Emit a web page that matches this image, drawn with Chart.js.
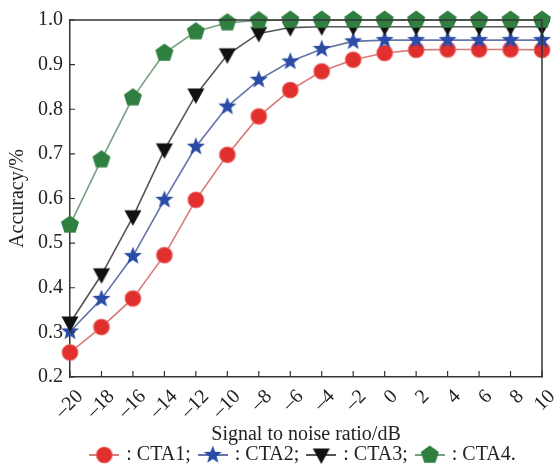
<!DOCTYPE html>
<html>
<head>
<meta charset="utf-8">
<script src="https://cdn.jsdelivr.net/npm/chart.js@4.4.1/dist/chart.umd.min.js"></script>
<style>
  html, body { margin: 0; padding: 0; background: #fff; }
  #wrap { width: 554px; height: 475px; }
</style>
</head>
<body>
<div id="wrap"><canvas id="c" width="554" height="475"></canvas></div>
<script>
// ---- data ----
const snrLabels = ['–20','–18','–16','–14','–12','–10','–8','–6','–4','–2','0','2','4','6','8','10'];
const cta1 = [0.255,0.312,0.376,0.473,0.597,0.698,0.784,0.843,0.885,0.911,0.926,0.933,0.934,0.934,0.934,0.933];
const cta2 = [0.302,0.375,0.471,0.597,0.716,0.806,0.866,0.907,0.935,0.952,0.955,0.955,0.955,0.955,0.955,0.955];
const cta3 = [0.321,0.429,0.559,0.709,0.832,0.922,0.970,0.983,0.985,0.985,0.985,0.985,0.985,0.985,0.985,0.985];
const cta4 = [0.541,0.687,0.826,0.926,0.974,0.994,0.999,1.0,1.0,1.0,1.0,1.0,1.0,1.0,1.0,1.0];
const seriesNames = [': CTA1;', ': CTA2;', ': CTA3;', ': CTA4.'];
const yTickValues = [0.2,0.3,0.4,0.5,0.6,0.7,0.8,0.9,1.0];
const xTitle = 'Signal to noise ratio/dB';
const yTitle = 'Accuracy/%';

// ---- styles ----
const FONT = "'Liberation Serif', 'Times New Roman', serif";
const TXT = '#222222';
const AXIS = '#333333';

function drawShape(ctx, shape, fill, cx, cy) {
  ctx.fillStyle = fill;
  ctx.beginPath();
  if (shape === 'circle') {
    ctx.arc(cx, cy, 8, 0, Math.PI * 2);
  } else if (shape === 'star') {
    for (let i = 0; i < 10; i++) {
      const r = i % 2 === 0 ? 9.5 : 4;
      const a = -Math.PI / 2 + i * Math.PI / 5;
      const px = cx + r * Math.cos(a), py = cy + r * Math.sin(a);
      if (i === 0) ctx.moveTo(px, py); else ctx.lineTo(px, py);
    }
    ctx.closePath();
  } else if (shape === 'tri') {
    ctx.moveTo(cx - 8.5, cy - 6.5);
    ctx.lineTo(cx + 8.5, cy - 6.5);
    ctx.lineTo(cx, cy + 9);
    ctx.closePath();
  } else if (shape === 'pent') {
    for (let i = 0; i < 5; i++) {
      const a = -Math.PI / 2 + i * 2 * Math.PI / 5;
      const px = cx + 9.5 * Math.cos(a), py = cy + 9.5 * Math.sin(a);
      if (i === 0) ctx.moveTo(px, py); else ctx.lineTo(px, py);
    }
    ctx.closePath();
  }
  ctx.fill();
  if (shape === 'circle') {
    ctx.strokeStyle = 'rgba(235,110,110,0.7)';
    ctx.lineWidth = 1.2;
    ctx.stroke();
  }
}

function pointImage(shape, fill) {
  const c = document.createElement('canvas');
  c.width = 22; c.height = 22;
  drawShape(c.getContext('2d'), shape, fill, 11, 11);
  return c;
}
function legendImage(shape, fill, line) {
  const c = document.createElement('canvas');
  c.width = 30; c.height = 22;
  const ctx = c.getContext('2d');
  ctx.strokeStyle = line;
  ctx.lineWidth = 2;
  ctx.beginPath(); ctx.moveTo(0, 11); ctx.lineTo(30, 11); ctx.stroke();
  drawShape(ctx, shape, fill, 15, 11);
  return c;
}

const styles = [
  { shape: 'circle', fill: '#e02f2c', line: '#d97a76' },
  { shape: 'star',   fill: '#2a4ca6', line: '#6474a8' },
  { shape: 'tri',    fill: '#111111', line: '#555555' },
  { shape: 'pent',   fill: '#2f8040', line: '#76a07e' }
];
const seriesData = [cta1, cta2, cta3, cta4];
const drawOrder = [3, 2, 1, 0];

const datasets = seriesData.map((d, i) => ({
  label: seriesNames[i],
  data: d,
  borderColor: styles[i].line,
  backgroundColor: styles[i].fill,
  borderWidth: 1.6,
  pointStyle: pointImage(styles[i].shape, styles[i].fill),
  pointRadius: 9,
  tension: 0,
  clip: false,
  order: drawOrder[i]
}));

const innerTicks = {
  id: 'innerTicks',
  afterDatasetsDraw(chart) {
    const { ctx, chartArea: a, scales: { x, y } } = chart;
    ctx.save();
    ctx.strokeStyle = AXIS;
    ctx.lineWidth = 1.5;
    ctx.beginPath();
    ctx.moveTo(a.left, a.top); ctx.lineTo(a.right, a.top); ctx.lineTo(a.right, a.bottom);
    ctx.stroke();
    ctx.lineWidth = 1.2;
    ctx.beginPath();
    x.ticks.forEach((t, i) => {
      const px = x.getPixelForTick(i);
      ctx.moveTo(px, a.bottom); ctx.lineTo(px, a.bottom - 6);
    });
    y.ticks.forEach((t, i) => {
      const py = y.getPixelForTick(i);
      ctx.moveTo(a.left, py); ctx.lineTo(a.left + 5, py);
    });
    ctx.stroke();
    ctx.restore();
  }
};

const legendShift = {
  id: 'legendShift',
  afterLayout(chart) {
    const l = chart.legend;
    if (l) { l.left += 33; l.right += 33; }
  }
};

new Chart(document.getElementById('c'), {
  type: 'line',
  data: { labels: snrLabels, datasets },
  plugins: [innerTicks, legendShift],
  options: {
    responsive: false,
    animation: false,
    layout: { padding: { top: 20, right: 12, bottom: 0, left: 0 } },
    plugins: {
      tooltip: { enabled: false },
      legend: {
        position: 'bottom',
        labels: {
          usePointStyle: true,
          pointStyleWidth: 24,
          padding: 10,
          color: TXT,
          font: { family: FONT, size: 20 },
          generateLabels() {
            return seriesNames.map((n, i) => ({
              text: n,
              pointStyle: legendImage(styles[i].shape, styles[i].fill, styles[i].line),
              fillStyle: styles[i].fill,
              strokeStyle: styles[i].line,
              lineWidth: 0,
              hidden: false,
              datasetIndex: i,
              fontColor: TXT
            }));
          }
        }
      }
    },
    scales: {
      x: {
        type: 'category',
        offset: false,
        grid: { display: false, drawTicks: false },
        border: { display: true, color: AXIS, width: 1.5 },
        ticks: {
          autoSkip: false,
          maxRotation: 45,
          minRotation: 45,
          padding: 8,
          labelOffset: 10,
          color: TXT,
          font: { family: FONT, size: 20 }
        },
        title: {
          display: true,
          text: xTitle,
          color: TXT,
          font: { family: FONT, size: 20 },
          padding: { top: 0, bottom: -12 }
        },
        afterFit(scale) {
          const lh = scale.chart.legend ? scale.chart.legend.height : 40;
          scale.height = 475 - lh - 377;
          scale.paddingLeft = 0;
          scale.paddingRight = 0;
        }
      },
      y: {
        type: 'linear',
        min: 0.2,
        max: 1.0,
        grid: { display: false, drawTicks: false },
        border: { display: true, color: AXIS, width: 1.5 },
        afterBuildTicks(scale) {
          scale.ticks = yTickValues.map(v => ({ value: v }));
        },
        ticks: {
          padding: 7,
          color: TXT,
          font: { family: FONT, size: 20 },
          callback: v => Number(v).toFixed(1)
        },
        title: {
          display: true,
          text: yTitle,
          color: TXT,
          font: { family: FONT, size: 20 },
          padding: { top: 6, bottom: 0 }
        },
        afterFit(scale) { scale.width = 70; scale.paddingTop = 0; scale.paddingBottom = 0; }
      }
    }
  }
});
</script>
</body>
</html>
